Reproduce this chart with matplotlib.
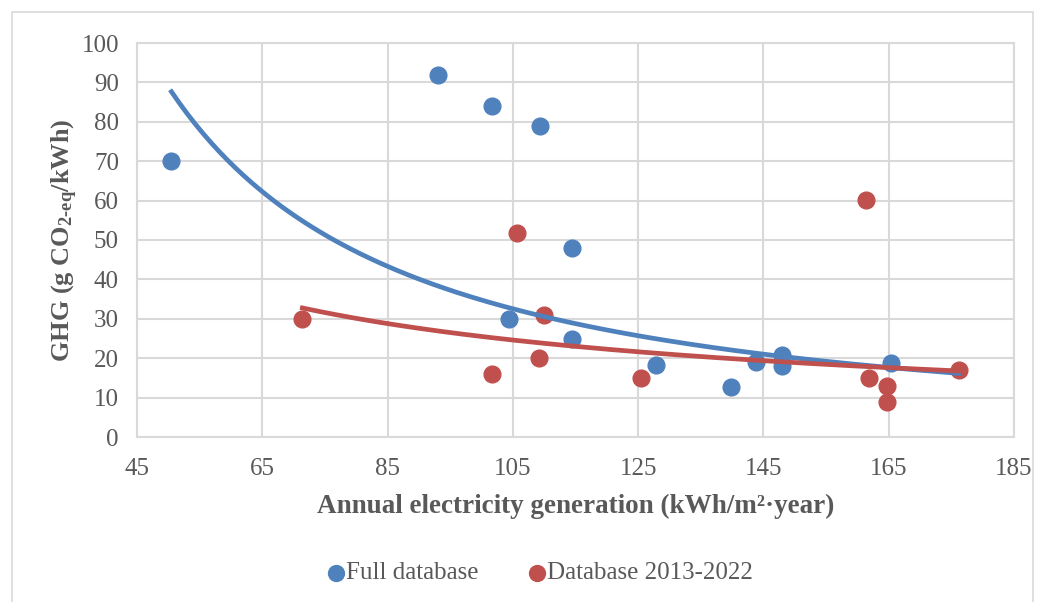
import numpy as np
import matplotlib
matplotlib.use("Agg")
import matplotlib.pyplot as plt
from matplotlib.patches import Rectangle

plt.rcParams['font.family'] = ['Liberation Serif', 'DejaVu Serif']
plt.rcParams['mathtext.fontset'] = 'custom'
plt.rcParams['mathtext.rm'] = 'Liberation Serif:bold'
plt.rcParams['mathtext.bf'] = 'Liberation Serif:bold'
plt.rcParams['mathtext.it'] = 'Liberation Serif:bold:italic'

# data
full_x = [50.5, 93.1, 101.7, 109.4, 114.5, 104.4, 114.5, 127.9, 139.8, 143.8, 148.0, 148.0, 165.4]
full_y = [70.0, 92.0, 84.0, 79.0, 48.0, 30.0, 25.0, 18.4, 12.8, 19.1, 20.9, 17.9, 18.8]
new_x = [71.4, 101.7, 105.7, 109.9, 109.1, 125.5, 161.4, 161.9, 164.7, 164.7, 176.2]
new_y = [30.0, 16.1, 51.7, 31.0, 20.1, 15.0, 60.2, 15.0, 13.0, 8.9, 16.9]

x_ticks = [45, 65, 85, 105, 125, 145, 165, 185]
y_ticks = [0, 10, 20, 30, 40, 50, 60, 70, 80, 90, 100]

blue = '#4F81BD'
red = '#C0504D'
grid_c = '#D9D9D9'
text_c = '#595959'


def power_fit(x, y):
    # same as an Excel power trendline: straight line in log-log space
    b, ln_a = np.polyfit(np.log(x), np.log(y), 1)
    xs = np.linspace(min(x), max(x), 200)
    return xs, np.exp(ln_a) * xs ** b


fig = plt.figure(figsize=(10.45, 6.02), dpi=100)
fig.patches.append(Rectangle((12 / 1045, -0.01), 1021 / 1045, 1 - 12 / 602 + 0.01,
                             transform=fig.transFigure, fill=False,
                             edgecolor='#D9D9D9', linewidth=1.2))

ax = fig.add_axes([137 / 1045, 1 - 437 / 602, 877 / 1045, 394 / 602])

ax.scatter(full_x, full_y, s=145, color=blue, zorder=3, label='Full database')
ax.scatter(new_x, new_y, s=145, color=red, zorder=3, label='Database 2013-2022')

# the full database trend covers every point, old and new
xs, ys = power_fit(full_x + new_x, full_y + new_y)
ax.plot(xs, ys, color=blue, lw=3.4, zorder=4)
xs, ys = power_fit(new_x, new_y)
ax.plot(xs, ys, color=red, lw=3.4, zorder=4)

ax.set_xlim(45, 185)
ax.set_ylim(0, 100)
ax.set_xticks(x_ticks)
ax.set_yticks(y_ticks)
ax.grid(True, color=grid_c, lw=1.5)
ax.set_axisbelow(True)
for s in ax.spines.values():
    s.set_color(grid_c)
    s.set_linewidth(1.5)
ax.tick_params(length=0, labelsize=18, colors=text_c)
ax.tick_params(axis='x', pad=15)
ax.tick_params(axis='y', pad=13)

ax.set_xlabel('Annual electricity generation (kWh/m²·year)', fontsize=19.5,
              fontweight='bold', color=text_c, va='center')
ax.xaxis.set_label_coords(0.5, -0.175)
ax.set_ylabel(r'GHG (g CO$_{\text{2-eq}}$/kWh)', fontsize=19,
              fontweight='bold', color=text_c, va='center')
ax.yaxis.set_label_coords(-0.082, 0.5)

fig.legend(loc='center', bbox_to_anchor=(540 / 1045, 1 - 573 / 602), ncol=2,
           frameon=False, fontsize=18, labelcolor=text_c, handletextpad=0.05,
           handlelength=0.7, columnspacing=2.0, markerscale=0.95)

fig.savefig('out.png', dpi=100)
